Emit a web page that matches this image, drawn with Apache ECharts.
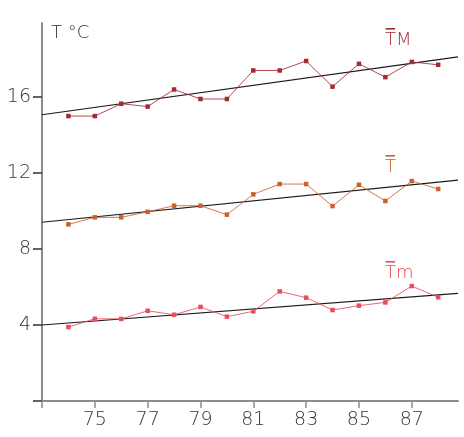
<!DOCTYPE html>
<html>
<head>
<meta charset="utf-8">
<script src="https://cdn.jsdelivr.net/npm/echarts@6/dist/echarts.min.js"></script>
<style>html,body{margin:0;padding:0;background:#fff}#c{width:464px;height:437px}</style>
</head>
<body>
<div id="c"></div>
<script>
const years = [74,75,76,77,78,79,80,81,82,83,84,85,86,87,88];
const tMax  = [15.0,15.0,15.65,15.5,16.4,15.9,15.9,17.4,17.4,17.9,16.55,17.75,17.05,17.85,17.7];
const tMean = [9.3,9.67,9.67,9.96,10.28,10.28,9.81,10.88,11.42,11.42,10.26,11.38,10.53,11.58,11.16];
const tMin  = [3.89,4.33,4.32,4.75,4.54,4.95,4.44,4.72,5.77,5.44,4.79,5.02,5.19,6.05,5.46];
const trendYears = [73, 88.75];
const trendMax  = [15.07, 18.12];
const trendMean = [9.41, 11.63];
const trendMin  = [4.0, 5.67];
const yTickLabels = [4, 8, 12, 16];
const xTickLabels = [75, 77, 79, 81, 83, 85, 87];
const seriesNames = ['TM', 'T', 'Tm'];
const colors = ['#a52a36', '#c9622c', '#ea4b5e'];

const font = "'DejaVu Sans'";
const pair = (xs, ys) => xs.map((x, i) => [x, ys[i]]);
const chart = echarts.init(document.getElementById('c'), null, {renderer: 'canvas'});

function dataSeries(name, vals, color) {
  return {
    name, type: 'line', data: pair(years, vals),
    symbol: 'rect', symbolSize: 4.5,
    itemStyle: {color},
    lineStyle: {color, width: 1, opacity: 0.85},
    z: 3, animation: false
  };
}
function trendSeries(vals) {
  return {
    type: 'line', data: pair(trendYears, vals), symbol: 'none',
    lineStyle: {color: '#1a1a1a', width: 1.2}, z: 2, animation: false
  };
}
function seriesLabel(text, sub, x, y, color) {
  return {
    type: 'group', left: x, top: y,
    children: [
      {type: 'rect', shape: {x: 0.5, y: 0, width: 9.5, height: 1.6}, style: {fill: color}},
      {type: 'text', x: 0, y: 3, style: {text: text + sub, fill: color, font: "200 18px " + font}}
    ]
  };
}

chart.setOption({
  animation: false,
  grid: {left: 42, right: 6, top: 23, bottom: 36},
  xAxis: {
    type: 'value', min: 73, max: 88.75, interval: 2,
    axisLine: {lineStyle: {color: '#8c8c8c', width: 2}},
    axisTick: {length: 7, lineStyle: {color: '#8c8c8c', width: 1.5}},
    splitLine: {show: false},
    axisLabel: {
      margin: 10, color: '#333', fontFamily: font, fontWeight: 200, fontSize: 19,
      showMaxLabel: false,
      formatter: v => xTickLabels.includes(v) ? String(v) : ''
    }
  },
  yAxis: {
    type: 'value', min: 0, max: 19.9, interval: 4,
    axisLine: {show: true, lineStyle: {color: '#8c8c8c', width: 2}},
    axisTick: {show: true, length: 9, lineStyle: {color: '#333', width: 1.5}},
    splitLine: {show: false},
    axisLabel: {
      margin: 11, color: '#333', fontFamily: font, fontWeight: 200, fontSize: 19,
      showMaxLabel: false,
      formatter: v => yTickLabels.includes(v) ? String(v) : ''
    }
  },
  graphic: [
    {type: 'text', left: 51, top: 24, style: {text: 'T °C', fill: '#333', font: "200 18px " + font}},
    seriesLabel('T', 'M', 385, 28, colors[0]),
    seriesLabel('T', '', 385, 155, colors[1]),
    seriesLabel('T', 'm', 385, 261, colors[2])
  ],
  series: [
    trendSeries(trendMax), trendSeries(trendMean), trendSeries(trendMin),
    dataSeries(seriesNames[0], tMax, colors[0]),
    dataSeries(seriesNames[1], tMean, colors[1]),
    dataSeries(seriesNames[2], tMin, colors[2])
  ]
});
</script>
</body>
</html>
